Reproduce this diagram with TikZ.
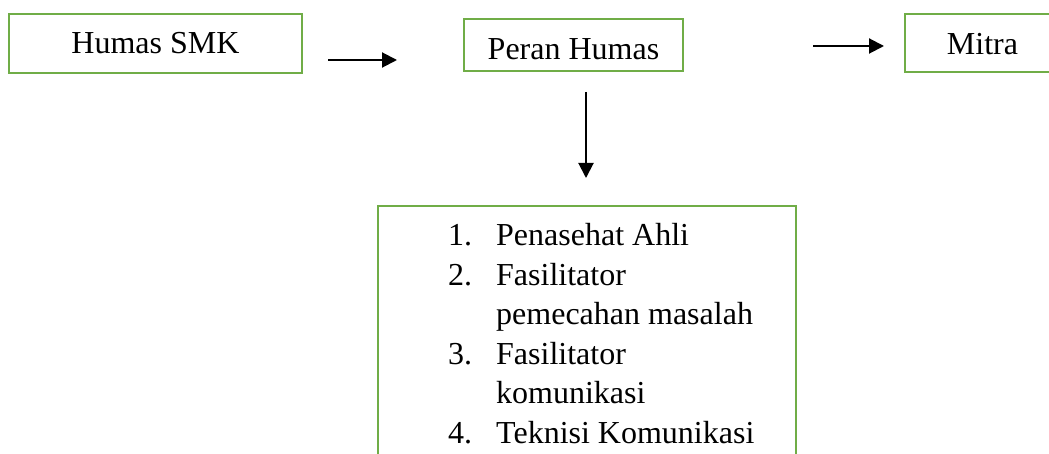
\documentclass[tikz,border=0pt]{standalone}
\usepackage{fontspec}
\setmainfont{Liberation Serif}
\usetikzlibrary{arrows.meta}
\definecolor{wgreen}{RGB}{112,173,71}
\begin{document}
\begin{tikzpicture}[x=1pt,y=-1pt,
  box/.style={draw=wgreen, line width=2pt, inner sep=0pt},
  lbl/.style={font=\fontsize{32}{39}\selectfont, inner sep=0pt, anchor=base},
  item/.style={font=\fontsize{32}{39}\selectfont, inner sep=0pt, anchor=base west},
  arr/.style={line width=2pt, -{Triangle[length=15pt,width=15pt]}}]
\useasboundingbox (0,0) rectangle (1049,454);
\clip (0,0) rectangle (1049,454);
% boxes
\node[box, minimum width=293pt, minimum height=59pt] (smk) at (155.5,43.5) {};
\node[box, minimum width=219pt, minimum height=52pt] (peran) at (573.5,45) {};
\node[box, minimum width=155pt, minimum height=58pt] (mitra) at (982.5,43) {};
\node[box, minimum width=418pt, minimum height=400pt] (list) at (587,406) {};
% labels
\node[lbl] (tsmk) at (155.5,54) {Humas SMK};
\node[lbl] (tperan) at (573.5,60) {Peran Humas};
\node[lbl] (tmitra) at (982.5,55) {Mitra};
% list
\node[item] (i1) at (448,246) {\makebox[48pt][l]{1.}Penasehat Ahli};
\node[item] (i2) at (448,285.4) {\makebox[48pt][l]{2.}Fasilitator};
\node[item] (i2b) at (496,324.8) {pemecahan masalah};
\node[item] (i3) at (448,364.2) {\makebox[48pt][l]{3.}Fasilitator};
\node[item] (i3b) at (496,403.6) {komunikasi};
\node[item] (i4) at (448,443) {\makebox[48pt][l]{4.}Teknisi Komunikasi};
% arrows
\coordinate (a1s) at (328,60);
\coordinate (a1e) at (397,60);
\coordinate (a2s) at (813,46);
\coordinate (a2e) at (884,46);
\coordinate (a3s) at (586,92);
\coordinate (a3e) at (586,178);
\draw[arr] (a1s) -- (a1e);
\draw[arr] (a2s) -- (a2e);
\draw[arr] (a3s) -- (a3e);
\end{tikzpicture}
\end{document}
